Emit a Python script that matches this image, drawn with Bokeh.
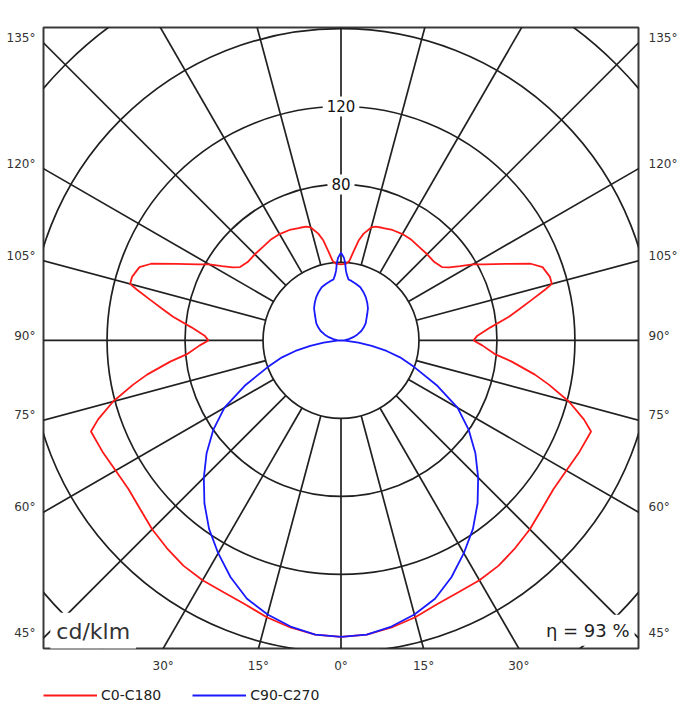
import numpy as np
from bokeh.plotting import figure
from bokeh.layouts import column
from bokeh.models import Range1d, FixedTicker, LinearAxis, Label, Legend, LegendItem
from bokeh.embed import file_html
from bokeh.resources import INLINE

# ---- data (cd/klm), gamma measured from nadir (0 deg = straight down) ----
gamma_c0 = [0, 5, 10, 15, 20, 25, 30, 35, 40, 45, 50, 55, 60, 65, 70, 72, 75, 78, 80, 83,
            85, 88, 90, 92, 95, 98, 100, 102, 104, 105, 107, 110, 112, 115, 118, 120, 122, 124, 126, 130,
            135, 140, 145, 150, 155, 160, 163, 165, 168, 170, 172, 174, 176, 180]
c0_c180 = [152, 151.5, 149.5, 147, 144, 142.5, 142, 141, 139, 137, 134.5, 133, 133.5, 135, 136.5, 131, 121, 109, 101, 88,
           79, 72.5, 68, 70, 77, 87, 93, 100, 108, 112, 112, 110, 105, 93, 83, 78, 72, 67, 64, 62.5,
           62.5, 62.5, 63, 63, 62.5, 61.5, 61, 60, 56, 52, 46, 41, 39.5, 39]

gamma_c90 = [0, 5, 10, 15, 20, 25, 30, 35, 40, 45, 50, 55, 60, 65, 70, 74, 77, 80, 83, 86, 90,
             95, 100, 105, 110, 115, 120, 125, 130, 135, 140, 145, 150, 155, 160, 165, 170,
             173, 175, 176, 177, 178, 180]
c90_c270 = [152, 151.5, 149, 145.5, 141, 134, 126, 118, 109, 99.5, 90, 80, 69, 54, 40, 31.5, 24, 16, 9, 2, 0,
            2, 4, 6.5, 9, 11.5, 13.5, 15.5, 17, 19, 21.5, 23.5, 25.5, 27.3, 29, 30, 31,
            31.5, 34, 36, 40, 42.5, 45]

ring_values = [40, 80, 120, 160, 200, 240]
ring_labels = [80, 120]
spoke_step = 15
side_angles = [135, 120, 105, 90, 75, 60, 45]
bottom_angles = [-30, -15, 0, 15, 30]
eta_text = "\u03b7 = 93 %"
unit_text = "cd/klm"
series_names = ["C0-C180", "C90-C270"]
series_colors = ["#ff1a1a", "#1a1aff"]

X0, X1 = -152.6, 152.6
Y0, Y1 = -158.0, 160.5


def closed_curve(g, v):
    g = np.radians(np.asarray(g, dtype=float))
    v = np.asarray(v, dtype=float)
    xr, yr = v * np.sin(g), -v * np.cos(g)
    xs = np.concatenate([xr, -xr[::-1]])
    ys = np.concatenate([yr, yr[::-1]])
    return xs, ys


p = figure(frame_width=595, frame_height=621,
           x_range=Range1d(X0, X1), y_range=Range1d(Y0, Y1),
           output_backend="svg", toolbar_location=None,
           min_border_left=43, min_border_right=43, min_border_top=27, min_border_bottom=30,
           background_fill_color="white", border_fill_color="white")
p.grid.visible = False
p.outline_line_color = "#3a3a3a"
p.outline_line_width = 2

GRID = "#202020"
# rings
p.circle(x=[0] * len(ring_values), y=[0] * len(ring_values), radius=ring_values,
         fill_color=None, line_color=GRID, line_width=1.7)
# spokes
angs = np.radians(np.arange(0, 360, spoke_step))
r_in, r_out = ring_values[0], 300
p.multi_line(xs=[[r_in * np.sin(a), r_out * np.sin(a)] for a in angs],
             ys=[[-r_in * np.cos(a), -r_out * np.cos(a)] for a in angs],
             line_color=GRID, line_width=1.7)

# curves
xr, yr = closed_curve(gamma_c0, c0_c180)
red = p.line(xr, yr, line_color=series_colors[0], line_width=1.8)
xb, yb = closed_curve(gamma_c90, c90_c270)
blue = p.line(xb, yb, line_color=series_colors[1], line_width=1.8)

# ring labels
for rv in ring_labels:
    p.add_layout(Label(x=0, y=rv, text=str(rv), text_align="center", text_baseline="middle",
                       text_font="DejaVu Sans", text_font_size="15px", text_color="#111",
                       background_fill_color="white", padding=4))

p.add_layout(Label(x=X0 + 3.5, y=Y0 + 8.8, text=unit_text, text_align="left", text_baseline="middle",
                   text_font="DejaVu Sans", text_font_size="22px", text_color="#333",
                   background_fill_color="white", padding=6))
p.add_layout(Label(x=X1 - 2.0, y=Y0 + 9.3, text=eta_text, text_align="right", text_baseline="middle",
                   text_font="DejaVu Sans", text_font_size="18px", text_color="#222",
                   background_fill_color="white", padding=5))

# angle labels via axes
side_ticks = [round(-X1 / np.tan(np.radians(a)) + 2.5, 2) if a != 90 else 2.5 for a in side_angles]
side_over = {t: f"{a}\u00b0" for t, a in zip(side_ticks, side_angles)}
bottom_ticks = [round(-Y0 * np.tan(np.radians(a)), 2) for a in bottom_angles]
bottom_over = {t: f"{abs(a)}\u00b0" for t, a in zip(bottom_ticks, bottom_angles)}


def style_axis(ax, ticks, over, standoff):
    ax.ticker = FixedTicker(ticks=ticks)
    ax.major_label_overrides = over
    ax.axis_line_color = None
    ax.major_tick_line_color = None
    ax.minor_tick_line_color = None
    ax.major_label_standoff = standoff
    ax.major_label_text_font = "DejaVu Sans"
    ax.major_label_text_font_size = "12px"
    ax.major_label_text_color = "#333"


style_axis(p.yaxis[0], side_ticks, side_over, 2)
style_axis(p.xaxis[0], bottom_ticks, bottom_over, 4)
right_axis = LinearAxis()
style_axis(right_axis, side_ticks, side_over, 4)
p.add_layout(right_axis, "right")

# legend strip below the diagram; the legend refers to the diagram's own two curves
leg = figure(frame_width=595, frame_height=30, x_range=Range1d(0, 1), y_range=Range1d(0, 1),
             output_backend="svg", toolbar_location=None,
             min_border_left=43, min_border_right=43, min_border_top=0, min_border_bottom=0,
             background_fill_color="white", border_fill_color="white")
leg.axis.visible = False
leg.grid.visible = False
leg.outline_line_color = None
items = []
for name, col in zip(series_names, series_colors):
    # same style as the diagram curve; its points lie outside this strip's ranges
    r = leg.line(xr[:2] * 0 + 5, yr[:2] * 0 + 5, line_color=col, line_width=1.8)
    items.append(LegendItem(label=name, renderers=[r]))
lg = Legend(items=items, orientation="horizontal", location=(0, 5),
            glyph_width=54, glyph_height=12, label_height=12, label_standoff=4, spacing=31,
            padding=0, margin=0, border_line_color=None, background_fill_alpha=0,
            label_text_font="DejaVu Sans", label_text_font_size="14px", label_text_color="#222")
leg.add_layout(lg)

open("out.html", "w").write(file_html(column(p, leg, spacing=0), INLINE))
